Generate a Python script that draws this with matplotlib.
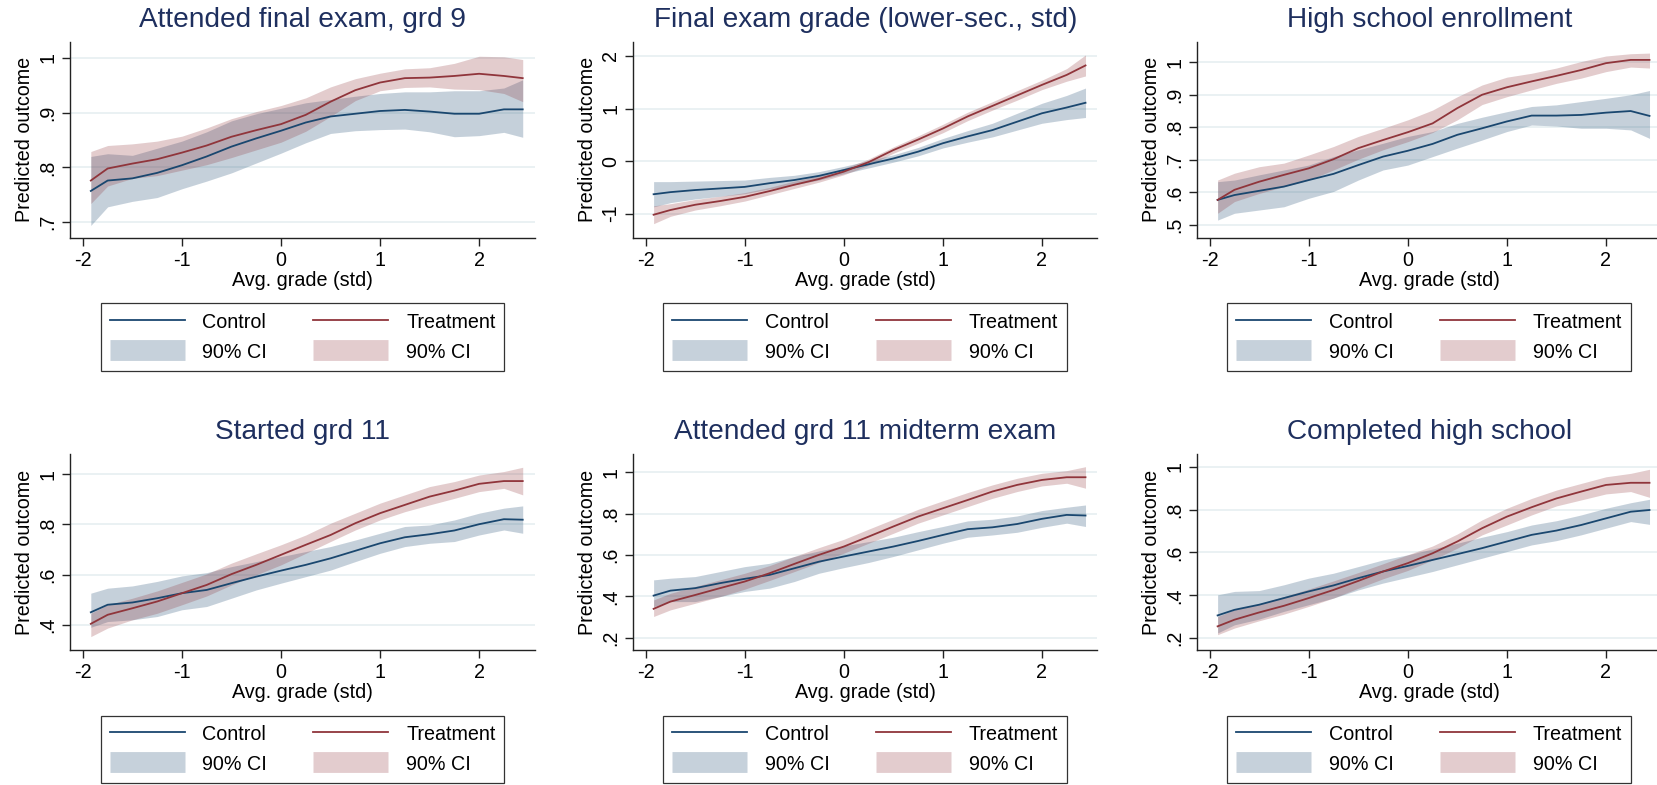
import matplotlib
matplotlib.use("Agg")
import matplotlib.pyplot as plt
from matplotlib.lines import Line2D

plt.rcParams["font.family"] = ["Liberation Sans", "DejaVu Sans"]

# Shared x grid (avg. grade, std)
x = [-1.92, -1.75, -1.5, -1.25, -1.0, -0.75, -0.5, -0.25, 0.0, 0.25,
     0.5, 0.75, 1.0, 1.25, 1.5, 1.75, 2.0, 2.25, 2.44]

titles = ["Attended final exam, grd 9", "Final exam grade (lower-sec., std)",
          "High school enrollment", "Started grd 11",
          "Attended grd 11 midterm exam", "Completed high school"]

# Panel 1: attended final exam, grd 9
p1_ctrl = [0.757, 0.776, 0.780, 0.790, 0.804, 0.820, 0.838, 0.853, 0.867, 0.882,
           0.893, 0.898, 0.903, 0.905, 0.902, 0.898, 0.898, 0.906, 0.906]
p1_ctrl_lo = [0.694, 0.728, 0.738, 0.745, 0.761, 0.775, 0.790, 0.808, 0.826, 0.845,
              0.862, 0.867, 0.869, 0.870, 0.865, 0.856, 0.858, 0.864, 0.855]
p1_ctrl_hi = [0.820, 0.825, 0.822, 0.835, 0.848, 0.865, 0.885, 0.898, 0.908, 0.918,
              0.924, 0.930, 0.935, 0.938, 0.938, 0.940, 0.940, 0.945, 0.960]
p1_treat = [0.776, 0.798, 0.807, 0.815, 0.827, 0.840, 0.856, 0.868, 0.879, 0.896,
            0.920, 0.941, 0.955, 0.963, 0.964, 0.967, 0.971, 0.967, 0.963]
p1_treat_lo = [0.734, 0.766, 0.780, 0.785, 0.795, 0.805, 0.818, 0.832, 0.846, 0.866,
               0.893, 0.922, 0.940, 0.946, 0.947, 0.943, 0.942, 0.935, 0.920]
p1_treat_hi = [0.829, 0.840, 0.843, 0.848, 0.857, 0.872, 0.889, 0.902, 0.913, 0.927,
               0.947, 0.962, 0.972, 0.980, 0.982, 0.990, 1.003, 1.002, 0.997]

# Panel 2: final exam grade
p2_ctrl = [-0.63, -0.59, -0.55, -0.52, -0.49, -0.42, -0.36, -0.28, -0.17, -0.06,
           0.05, 0.18, 0.34, 0.47, 0.59, 0.75, 0.91, 1.02, 1.11]
p2_ctrl_lo = [-0.87, -0.79, -0.72, -0.67, -0.62, -0.53, -0.45, -0.36, -0.24, -0.13,
              -0.02, 0.10, 0.25, 0.36, 0.46, 0.59, 0.72, 0.79, 0.83]
p2_ctrl_hi = [-0.39, -0.39, -0.38, -0.37, -0.36, -0.31, -0.27, -0.20, -0.10, 0.01,
              0.12, 0.26, 0.43, 0.58, 0.72, 0.91, 1.10, 1.25, 1.39]
p2_treat = [-1.02, -0.93, -0.83, -0.76, -0.68, -0.57, -0.45, -0.34, -0.20, -0.02,
            0.21, 0.41, 0.62, 0.85, 1.05, 1.25, 1.45, 1.64, 1.82]
p2_treat_lo = [-1.19, -1.05, -0.93, -0.85, -0.76, -0.64, -0.52, -0.40, -0.26, -0.08,
               0.15, 0.34, 0.54, 0.77, 0.97, 1.16, 1.36, 1.52, 1.62]
p2_treat_hi = [-0.85, -0.81, -0.73, -0.67, -0.60, -0.50, -0.38, -0.28, -0.14, 0.04,
               0.27, 0.48, 0.70, 0.93, 1.13, 1.34, 1.54, 1.76, 2.02]

# Panel 3: high school enrollment
p3_ctrl = [0.577, 0.592, 0.605, 0.618, 0.638, 0.657, 0.684, 0.710, 0.728, 0.749,
           0.777, 0.797, 0.818, 0.836, 0.836, 0.838, 0.845, 0.850, 0.835]
p3_ctrl_lo = [0.515, 0.536, 0.546, 0.556, 0.582, 0.603, 0.638, 0.669, 0.684, 0.710,
              0.736, 0.761, 0.787, 0.807, 0.804, 0.797, 0.797, 0.792, 0.766]
p3_ctrl_hi = [0.633, 0.638, 0.654, 0.669, 0.684, 0.710, 0.731, 0.751, 0.772, 0.787,
              0.812, 0.831, 0.848, 0.864, 0.869, 0.879, 0.889, 0.900, 0.913]
p3_treat = [0.577, 0.608, 0.633, 0.654, 0.674, 0.702, 0.736, 0.761, 0.785, 0.812,
            0.859, 0.900, 0.923, 0.941, 0.958, 0.976, 0.997, 1.007, 1.007]
p3_treat_lo = [0.536, 0.572, 0.597, 0.618, 0.638, 0.669, 0.702, 0.731, 0.756, 0.784,
               0.823, 0.870, 0.894, 0.915, 0.935, 0.951, 0.971, 0.985, 0.982]
p3_treat_hi = [0.638, 0.659, 0.679, 0.690, 0.715, 0.741, 0.772, 0.797, 0.823, 0.853,
               0.894, 0.930, 0.954, 0.966, 0.982, 1.002, 1.019, 1.026, 1.028]

# Panel 4: started grd 11
p4_ctrl = [0.450, 0.480, 0.489, 0.506, 0.526, 0.539, 0.566, 0.592, 0.616, 0.639,
           0.665, 0.695, 0.725, 0.749, 0.761, 0.776, 0.801, 0.821, 0.819]
p4_ctrl_lo = [0.390, 0.413, 0.420, 0.433, 0.460, 0.473, 0.506, 0.539, 0.566, 0.592,
              0.618, 0.652, 0.685, 0.712, 0.725, 0.732, 0.758, 0.778, 0.765]
p4_ctrl_hi = [0.526, 0.546, 0.555, 0.573, 0.595, 0.608, 0.632, 0.652, 0.672, 0.692,
              0.712, 0.738, 0.765, 0.792, 0.798, 0.818, 0.845, 0.865, 0.874]
p4_treat = [0.404, 0.440, 0.466, 0.493, 0.526, 0.559, 0.602, 0.639, 0.679, 0.719,
            0.758, 0.805, 0.845, 0.878, 0.911, 0.935, 0.962, 0.973, 0.973]
p4_treat_lo = [0.353, 0.387, 0.420, 0.446, 0.480, 0.515, 0.559, 0.599, 0.639, 0.685,
               0.732, 0.778, 0.818, 0.851, 0.878, 0.904, 0.931, 0.944, 0.918]
p4_treat_hi = [0.446, 0.480, 0.506, 0.535, 0.569, 0.603, 0.646, 0.683, 0.719, 0.758,
               0.805, 0.845, 0.885, 0.918, 0.951, 0.971, 0.997, 1.011, 1.028]

# Panel 5: attended grd 11 midterm exam
p5_ctrl = [0.404, 0.428, 0.440, 0.464, 0.485, 0.504, 0.536, 0.568, 0.593, 0.617,
           0.641, 0.668, 0.697, 0.725, 0.734, 0.750, 0.775, 0.794, 0.791]
p5_ctrl_lo = [0.351, 0.375, 0.375, 0.399, 0.424, 0.440, 0.472, 0.512, 0.539, 0.564,
              0.593, 0.625, 0.657, 0.686, 0.697, 0.710, 0.734, 0.754, 0.738]
p5_ctrl_hi = [0.480, 0.488, 0.496, 0.520, 0.544, 0.560, 0.593, 0.620, 0.644, 0.665,
              0.686, 0.713, 0.738, 0.765, 0.773, 0.789, 0.815, 0.831, 0.842]
p5_treat = [0.340, 0.375, 0.407, 0.440, 0.472, 0.512, 0.557, 0.601, 0.641, 0.689,
            0.738, 0.786, 0.826, 0.866, 0.907, 0.939, 0.963, 0.976, 0.976]
p5_treat_lo = [0.303, 0.335, 0.367, 0.399, 0.435, 0.477, 0.520, 0.564, 0.609, 0.657,
               0.705, 0.754, 0.794, 0.834, 0.874, 0.907, 0.934, 0.947, 0.923]
p5_treat_hi = [0.383, 0.415, 0.448, 0.480, 0.512, 0.549, 0.593, 0.636, 0.676, 0.725,
               0.773, 0.821, 0.862, 0.902, 0.939, 0.971, 0.995, 1.008, 1.027]

# Panel 6: completed high school
p6_ctrl = [0.306, 0.332, 0.356, 0.387, 0.418, 0.446, 0.480, 0.511, 0.537, 0.565,
           0.592, 0.620, 0.651, 0.682, 0.702, 0.728, 0.759, 0.790, 0.798]
p6_ctrl_lo = [0.224, 0.262, 0.289, 0.325, 0.356, 0.387, 0.425, 0.457, 0.484, 0.511,
              0.542, 0.573, 0.604, 0.635, 0.655, 0.682, 0.713, 0.744, 0.731]
p6_ctrl_hi = [0.402, 0.418, 0.422, 0.449, 0.480, 0.503, 0.534, 0.565, 0.589, 0.616,
              0.643, 0.671, 0.697, 0.728, 0.748, 0.775, 0.806, 0.832, 0.848]
p6_treat = [0.255, 0.286, 0.320, 0.351, 0.387, 0.425, 0.467, 0.511, 0.550, 0.596,
            0.651, 0.713, 0.767, 0.811, 0.852, 0.884, 0.915, 0.925, 0.925]
p6_treat_lo = [0.216, 0.247, 0.281, 0.312, 0.348, 0.387, 0.433, 0.477, 0.516, 0.565,
               0.620, 0.682, 0.728, 0.775, 0.817, 0.845, 0.873, 0.884, 0.857]
p6_treat_hi = [0.301, 0.332, 0.360, 0.394, 0.429, 0.467, 0.506, 0.547, 0.589, 0.630,
               0.686, 0.752, 0.806, 0.852, 0.891, 0.922, 0.953, 0.969, 0.988]

# y ticks per panel (Stata style labels)
yticks = [[0.7, 0.8, 0.9, 1.0], [-1, 0, 1, 2], [0.5, 0.6, 0.7, 0.8, 0.9, 1.0],
          [0.4, 0.6, 0.8, 1.0], [0.2, 0.4, 0.6, 0.8, 1.0], [0.2, 0.4, 0.6, 0.8, 1.0]]
ytick_labels = [[".7", ".8", ".9", "1"], ["-1", "0", "1", "2"],
                [".5", ".6", ".7", ".8", ".9", "1"], [".4", ".6", ".8", "1"],
                [".2", ".4", ".6", ".8", "1"], [".2", ".4", ".6", ".8", "1"]]
ylims = [(0.672, 1.029), (-1.453, 2.266), (0.4616, 1.062),
         (0.3004, 1.0797), (0.142, 1.0869), (0.1455, 1.058)]
xticks = [-2, -1, 0, 1, 2]

panels = [
    (p1_ctrl, p1_ctrl_lo, p1_ctrl_hi, p1_treat, p1_treat_lo, p1_treat_hi),
    (p2_ctrl, p2_ctrl_lo, p2_ctrl_hi, p2_treat, p2_treat_lo, p2_treat_hi),
    (p3_ctrl, p3_ctrl_lo, p3_ctrl_hi, p3_treat, p3_treat_lo, p3_treat_hi),
    (p4_ctrl, p4_ctrl_lo, p4_ctrl_hi, p4_treat, p4_treat_lo, p4_treat_hi),
    (p5_ctrl, p5_ctrl_lo, p5_ctrl_hi, p5_treat, p5_treat_lo, p5_treat_hi),
    (p6_ctrl, p6_ctrl_lo, p6_ctrl_hi, p6_treat, p6_treat_lo, p6_treat_hi),
]

navy = "#1a476f"
maroon = "#90353b"
navy_ci = "#c6d1db"
maroon_ci = "#e3ccce"
title_color = "#1e2f5e"
grid_color = "#e6eff1"
fs = 14.2

W, H = 1658, 785
fig = plt.figure(figsize=(W / 100, H / 100), dpi=100, facecolor="white")

col_left = [70.4, 633.2, 1197.2]
row_top = [42.0, 454.3]
ax_w, ax_h = 464.2, 195.5

for i, (c, c_lo, c_hi, t, t_lo, t_hi) in enumerate(panels):
    row, col = divmod(i, 3)
    left = col_left[col] / W
    bottom = 1 - (row_top[row] + ax_h) / H
    ax = fig.add_axes([left, bottom, ax_w / W, ax_h / H])

    ax.fill_between(x, c_lo, c_hi, color=navy, alpha=0.25, lw=0, zorder=2)
    ax.fill_between(x, t_lo, t_hi, color=maroon, alpha=0.25, lw=0, zorder=2)
    ax.plot(x, c, color=navy, lw=1.3, zorder=3)
    ax.plot(x, t, color=maroon, lw=1.3, zorder=3)

    ax.set_xlim(-2.126, 2.56)
    ax.set_ylim(*ylims[i])
    ax.set_xticks(xticks)
    ax.set_xticklabels([str(v) for v in xticks])
    ax.set_yticks(yticks[i])
    ax.set_yticklabels(ytick_labels[i], rotation=90, va="center")
    ax.grid(axis="y", color=grid_color, lw=1.2, zorder=0)
    ax.set_axisbelow(True)

    for s in ["top", "right"]:
        ax.spines[s].set_visible(False)
    for s in ["left", "bottom"]:
        ax.spines[s].set_color("#222222")
        ax.spines[s].set_linewidth(1.0)
    ax.tick_params(direction="out", length=5.5, width=1.0, color="#222222",
                   labelsize=fs, pad=4)

    ax.set_title(titles[i], fontsize=20.2, color=title_color,
                 y=1 + 22 / ax_h, va="center", pad=0)
    ax.set_xlabel("Avg. grade (std)", fontsize=fs)
    ax.xaxis.set_label_coords(0.5, -42.5 / ax_h)
    ax.xaxis.label.set_va("center")
    ax.set_ylabel("Predicted outcome", fontsize=fs)
    ax.yaxis.set_label_coords(-45.4 / ax_w, 0.5)
    ax.yaxis.label.set_va("center")

    # CI swatches drawn as thick butt-capped lines so they stay plain rectangles
    handles = [Line2D([], [], color=navy, lw=1.3),
               Line2D([], [], color=navy_ci, lw=15, solid_capstyle="butt"),
               Line2D([], [], color=maroon, lw=1.3),
               Line2D([], [], color=maroon_ci, lw=15, solid_capstyle="butt")]
    labels = ["Control", "90% CI", "Treatment", "90% CI"]
    leg = ax.legend(handles, labels, ncol=2, loc="center",
                    bbox_to_anchor=(0.5, 1 - (337 - 42) / ax_h),
                    bbox_transform=ax.transAxes, fontsize=fs,
                    frameon=True, fancybox=False, edgecolor="black",
                    handlelength=3.8, handleheight=1.05, handletextpad=0.9,
                    columnspacing=2.35, borderpad=0.45, labelspacing=0.5)
    leg.get_frame().set_linewidth(0.9)

fig.savefig("out.png", dpi=100, facecolor="white")
